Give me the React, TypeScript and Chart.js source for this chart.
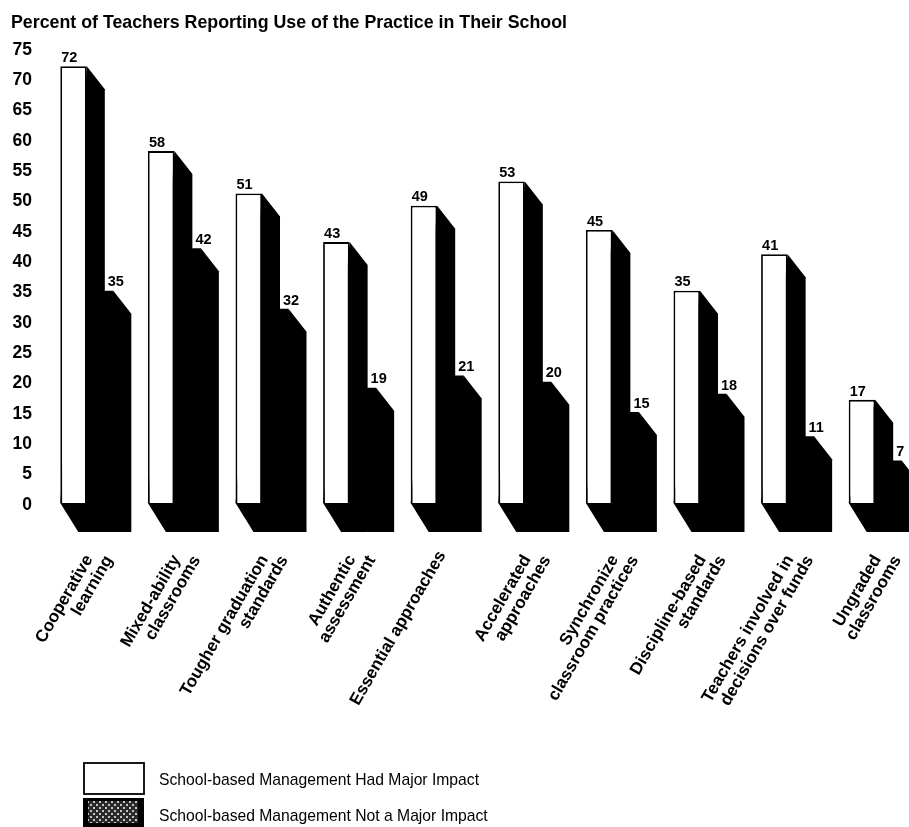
import React, { useEffect, useRef } from "react";
import { Chart, registerables } from "chart.js";

Chart.register(...registerables);

const titleText = "Percent of Teachers Reporting Use of the Practice in Their School";
const categories: string[][] = [
  ["Cooperative", "learning"],
  ["Mixed-ability", "classrooms"],
  ["Tougher graduation", "standards"],
  ["Authentic", "assessment"],
  ["Essential approaches"],
  ["Accelerated", "approaches"],
  ["Synchronize", "classroom practices"],
  ["Discipline-based", "standards"],
  ["Teachers involved in", "decisions over funds"],
  ["Ungraded", "classrooms"],
];
const majorImpact = [72, 58, 51, 43, 49, 53, 45, 35, 41, 17];
const notMajorImpact = [35, 42, 32, 19, 21, 20, 15, 18, 11, 7];
const seriesNames = [
  "School-based Management Had Major Impact",
  "School-based Management Not a Major Impact",
];

const FONT = '"Liberation Sans", Arial, sans-serif';
const DEPTH_X = 18;
const DEPTH_TOP = 23;
const DEPTH_FLOOR = 29;

const depthPlugin = {
  id: "depth",
  beforeDatasetsDraw(chart: any) {
    const ctx = chart.ctx;
    ctx.save();
    ctx.fillStyle = "#000";
    for (let d = chart.data.datasets.length - 1; d >= 0; d--) {
      for (const bar of chart.getDatasetMeta(d).data) {
        const x0 = bar.x - bar.width / 2;
        const x1 = bar.x + bar.width / 2;
        ctx.beginPath();
        ctx.moveTo(x1, bar.y);
        ctx.lineTo(x1 + DEPTH_X, bar.y + DEPTH_TOP);
        ctx.lineTo(x1 + DEPTH_X, bar.base + DEPTH_FLOOR);
        ctx.lineTo(x0 + DEPTH_X, bar.base + DEPTH_FLOOR);
        ctx.lineTo(x0, bar.base);
        ctx.closePath();
        ctx.fill();
      }
    }
    ctx.restore();
  },
};

const valueLabelPlugin = {
  id: "valueLabels",
  afterDatasetsDraw(chart: any) {
    const ctx = chart.ctx;
    ctx.save();
    ctx.fillStyle = "#000";
    ctx.font = `bold 14.5px ${FONT}`;
    ctx.textAlign = "left";
    ctx.textBaseline = "bottom";
    chart.data.datasets.forEach((ds: any, d: number) => {
      chart.getDatasetMeta(d).data.forEach((bar: any, i: number) => {
        const x0 = bar.x - bar.width / 2;
        ctx.fillText(String(ds.data[i]), x0 + (d === 0 ? 1 : 21), bar.y - 1);
      });
    });
    ctx.restore();
  },
};

const legendPlugin = {
  id: "sideLegend",
  afterDraw(chart: any) {
    const ctx = chart.ctx;
    const boxes = [
      { y: 763, h: 31 },
      { y: 798, h: 29 },
    ];
    ctx.save();
    ctx.strokeStyle = "#000";
    ctx.lineWidth = 1.8;
    ctx.fillStyle = "#fff";
    ctx.fillRect(84, boxes[0].y, 60, boxes[0].h);
    ctx.strokeRect(84, boxes[0].y, 60, boxes[0].h);
    ctx.fillStyle = "#000";
    ctx.fillRect(83, boxes[1].y, 61, boxes[1].h);
    const tile = document.createElement("canvas");
    tile.width = 6;
    tile.height = 6;
    const t = tile.getContext("2d")!;
    t.fillStyle = "#2a2a2a";
    t.fillRect(0, 0, 6, 6);
    t.fillStyle = "#c4c4c4";
    t.fillRect(0, 0, 2, 2);
    t.fillRect(3, 3, 2, 2);
    ctx.fillStyle = ctx.createPattern(tile, "repeat");
    ctx.fillRect(88, boxes[1].y + 3, 50, boxes[1].h - 7);
    ctx.fillStyle = "#000";
    ctx.font = `15.7px ${FONT}`;
    ctx.textAlign = "left";
    ctx.textBaseline = "middle";
    chart.data.datasets.forEach((ds: any, d: number) => {
      ctx.fillText(ds.label, 159, d === 0 ? 781 : 817);
    });
    ctx.restore();
  },
};

export default function App() {
  const ref = useRef<HTMLCanvasElement>(null);
  useEffect(() => {
    const chart = new Chart(ref.current!, {
      type: "bar",
      data: {
        labels: categories,
        datasets: [
          {
            label: seriesNames[0],
            data: majorImpact,
            backgroundColor: "#fff",
            borderColor: "#000",
            borderWidth: 1.8,
          },
          {
            label: seriesNames[1],
            data: notMajorImpact,
            backgroundColor: "#000",
            borderColor: "#000",
            borderWidth: 0,
          },
        ],
      },
      options: {
        responsive: false,
        animation: false,
        devicePixelRatio: 1,
        layout: { padding: { left: 11, right: 6, top: 0, bottom: 0 } },
        datasets: { bar: { barPercentage: 1, categoryPercentage: 0.605 } },
        plugins: {
          legend: { display: false },
          tooltip: { enabled: false },
          title: {
            display: true,
            text: titleText,
            align: "start",
            color: "#000",
            font: { family: FONT, size: 17.8, weight: "bold" },
            padding: { top: 12, bottom: 14.6 },
          },
        },
        scales: {
          x: {
            grid: { display: false },
            border: { display: false },
            afterFit(s: any) {
              s.height = 324;
              s.paddingLeft = 0;
              s.paddingRight = 0;
            },
            ticks: {
              autoSkip: false,
              minRotation: 60,
              maxRotation: 60,
              padding: 33,
              labelOffset: 7,
              color: "#000",
              font: { family: FONT, size: 17, weight: "bold", lineHeight: 1.03 },
              callback(_v: any, i: number) {
                const lines = categories[i];
                return lines.length > 1 ? [lines[0] + "  ", lines[1]] : [lines[0] + " "];
              },
            },
          },
          y: {
            min: 0,
            max: 75,
            grid: { display: false },
            border: { display: false },
            afterFit(s: any) {
              s.width = 32;
            },
            ticks: {
              stepSize: 5,
              autoSkip: false,
              padding: 3,
              labelOffset: 2,
              color: "#000",
              font: { family: FONT, size: 17.5, weight: "bold" },
            },
          },
        },
      } as any,
      plugins: [depthPlugin, valueLabelPlugin, legendPlugin],
    });
    return () => chart.destroy();
  }, []);

  return (
    <div style={{ position: "absolute", left: 0, top: 0, width: 909, height: 827, overflow: "hidden", background: "#fff" }}>
      <canvas ref={ref} width={925} height={827} style={{ display: "block" }} />
    </div>
  );
}
